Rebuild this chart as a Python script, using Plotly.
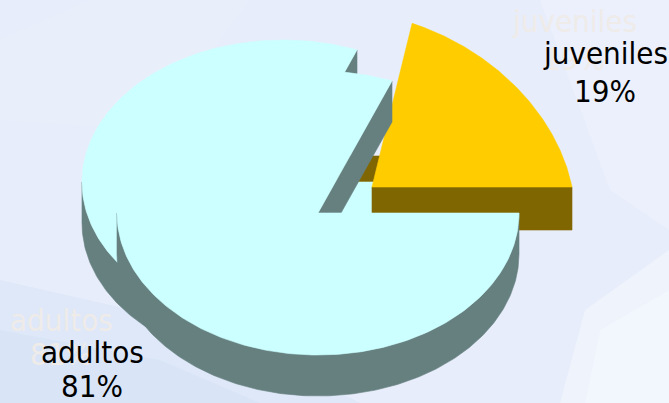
import numpy as np
import plotly.graph_objects as go

# ---------------- data ----------------
categories = ["juveniles", "adultos"]
values = [19, 81]
face_colors = ["#FFCC00", "#CCFFFF"]
side_colors = ["#806600", "#668080"]

W, H = 669, 403

# ---------------- geometry (pixel space) ----------------
geo = {
    "juveniles": dict(cx=372, cy=187, rx=200, ry=176, shear=-36, depth=43),
    "adultos": dict(cx=318, cy=213, rx=201, ry=142, shear=0, depth=41),
}
GHOST = (-35, -31)          # offset of the faint back copy
LABEL_GHOST = (-31, -32)

total = float(sum(values))
bounds = []
acc = 0.0
for v in values:
    a2 = acc + 2 * np.pi * v / total
    bounds.append((acc, a2))
    acc = a2


def pt(g, th, off=(0, 0), down=0.0):
    th = np.asarray(th)
    x = g["cx"] + off[0] + g["rx"] * np.cos(th) + g["shear"] * np.sin(th)
    y = g["cy"] + off[1] - g["ry"] * np.sin(th) + down
    return x, y


def poly(fig, xs, ys, color):
    fig.add_trace(go.Scatter(x=np.r_[xs, xs[0]], y=np.r_[ys, ys[0]], mode="lines",
                             fill="toself", fillcolor=color,
                             line=dict(color=color, width=0.6),
                             hoverinfo="skip", showlegend=False))


def walls(fig, name, t1, t2, color, off=(0, 0)):
    g = geo[name]
    d = g["depth"]
    ax, ay = g["cx"] + off[0], g["cy"] + off[1]
    lo, hi = max(t1, np.pi), min(t2, 2 * np.pi)
    if hi > lo:
        th = np.linspace(lo, hi, 240)
        x1, y1 = pt(g, th, off)
        x2, y2 = pt(g, th[::-1], off, d)
        poly(fig, np.r_[x1, x2], np.r_[y1, y2], color)
    for th, vis in ((t1, np.cos(t1) > 0), (t2, np.cos(t2) < 0)):
        if vis:
            px, py = pt(g, th, off)
            poly(fig, np.array([ax, px, px, ax]), np.array([ay, py, py + d, ay + d]), color)


def face(fig, name, t1, t2, color, off=(0, 0)):
    g = geo[name]
    ax, ay = g["cx"] + off[0], g["cy"] + off[1]
    th = np.linspace(t1, t2, 300)
    x, y = pt(g, th, off)
    poly(fig, np.r_[ax, x], np.r_[ay, y], color)


fig = go.Figure()
(ju1, ju2), (ad1, ad2) = bounds

# faint back copy
walls(fig, "juveniles", ju1, ju2, side_colors[0], GHOST)
walls(fig, "adultos", ad1, ad2, side_colors[1], GHOST)
face(fig, "adultos", ad1, ad2, face_colors[1], GHOST)
# exploded juveniles slice
walls(fig, "juveniles", ju1, ju2, side_colors[0])
face(fig, "juveniles", ju1, ju2, face_colors[0])
# adultos slice
walls(fig, "adultos", ad1, ad2, side_colors[1])
face(fig, "adultos", ad1, ad2, face_colors[1])

# ---------------- labels ----------------
label_pos = {"juveniles": (605, 53, 90.5), "adultos": (92, 352, 386)}
FONT = "DejaVu Sans Condensed, Liberation Sans, Arial, sans-serif"
FS = 31
for k, (name, v) in enumerate(zip(categories, values)):
    x, y1, y2 = label_pos[name]
    pct = f"{v / total * 100:.0f}%"
    for dx, dy, col in ((LABEL_GHOST[0], LABEL_GHOST[1], "#EFEBE9"), (0, 0, "#000000")):
        for txt, yy in ((name, y1), (pct, y2)):
            fig.add_annotation(x=x + dx, y=yy + dy, xref="x", yref="y", text=txt,
                               showarrow=False, xanchor="center", yanchor="middle",
                               font=dict(family=FONT, size=FS, color=col))

# ---------------- background (soft light-blue wash) ----------------
def soft(path, color, op):
    return dict(type="path", path=path, fillcolor=color, opacity=op,
                line=dict(width=0), layer="below")

bg_shapes = [
    soft("M 0,280 L 0,403 L 360,403 L 220,330 Z", "#D3E2F7", 0.45),
    soft("M 0,330 L 0,403 L 260,403 L 160,360 Z", "#D3E2F7", 0.45),
    soft("M 560,403 L 585,310 L 669,250 L 669,403 Z", "#F6F9FE", 0.5),
    soft("M 585,403 L 600,330 L 669,290 L 669,403 Z", "#F6F9FE", 0.5),
    soft("M 540,0 L 669,0 L 669,230 L 610,190 Z", "#F0F4FD", 0.5),
    soft("M 90,0 L 250,0 L 150,130 L 0,120 L 0,40 Z", "#EDF1FC", 0.4),
]

fig.update_layout(
    width=W, height=H, margin=dict(l=0, r=0, t=0, b=0),
    paper_bgcolor="#E7EDFA", plot_bgcolor="rgba(0,0,0,0)",
    xaxis=dict(range=[0, W], visible=False, fixedrange=True),
    yaxis=dict(range=[H, 0], visible=False, fixedrange=True),
    shapes=bg_shapes, showlegend=False,
)

fig.write_html("out.html")
